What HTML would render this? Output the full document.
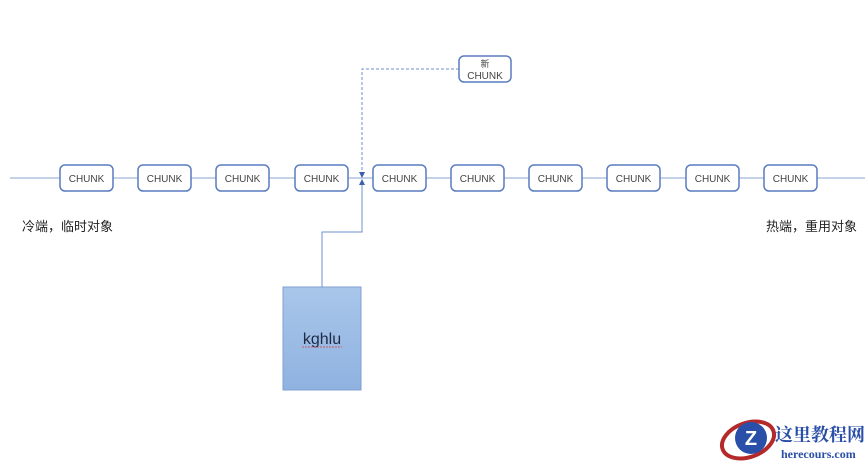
<!DOCTYPE html>
<html><head><meta charset="utf-8"><style>
html,body{margin:0;padding:0;background:#fff;width:865px;height:461px;overflow:hidden;font-family:"Liberation Sans","Noto Sans CJK SC",sans-serif}
</style></head><body>
<svg width="865" height="461" xmlns="http://www.w3.org/2000/svg" style="position:absolute;left:0;top:0">
<defs><linearGradient id="g" x1="0" y1="0" x2="0" y2="1"><stop offset="0" stop-color="#a9c6ea"/><stop offset="1" stop-color="#8fb2e0"/></linearGradient></defs>
<line x1="10" y1="178" x2="865" y2="178" stroke="#9fb6d6" stroke-width="1.2"/>
<g fill="#fff" stroke="#5a7cc0" stroke-width="1.5">
<rect x="60" y="165" width="53" height="26" rx="5"/>
<rect x="138" y="165" width="53" height="26" rx="5"/>
<rect x="216" y="165" width="53" height="26" rx="5"/>
<rect x="295" y="165" width="53" height="26" rx="5"/>
<rect x="373" y="165" width="53" height="26" rx="5"/>
<rect x="451" y="165" width="53" height="26" rx="5"/>
<rect x="529" y="165" width="53" height="26" rx="5"/>
<rect x="607" y="165" width="53" height="26" rx="5"/>
<rect x="686" y="165" width="53" height="26" rx="5"/>
<rect x="764" y="165" width="53" height="26" rx="5"/>
<rect x="459" y="56" width="52" height="26" rx="5"/>
</g>
<g font-size="10" fill="#444" text-anchor="middle">
<text x="86.5" y="182">CHUNK</text><text x="164.5" y="182">CHUNK</text><text x="242.5" y="182">CHUNK</text><text x="321.5" y="182">CHUNK</text><text x="399.5" y="182">CHUNK</text><text x="477.5" y="182">CHUNK</text><text x="555.5" y="182">CHUNK</text><text x="633.5" y="182">CHUNK</text><text x="712.5" y="182">CHUNK</text><text x="790.5" y="182">CHUNK</text>
<text x="485" y="67" font-size="9">新</text><text x="485" y="79">CHUNK</text>
</g>
<path d="M362 175 L362 69 L459 69" fill="none" stroke="#6f8fcf" stroke-width="1" stroke-dasharray="3,2"/>
<path d="M322 287 L322 232 L362 232 L362 181" fill="none" stroke="#6f8fcf" stroke-width="1"/>
<path d="M359 172 L365 172 L362 178 Z M359 185 L365 185 L362 179 Z" fill="#3a5fae"/>
<rect x="283" y="287" width="78" height="103" fill="url(#g)" stroke="#7fa0d0" stroke-width="1"/>
<text x="322" y="344" font-size="16" fill="#1e2a44" text-anchor="middle">kghlu</text>
<line x1="302" y1="347" x2="342" y2="347" stroke="#d04040" stroke-width="0.8" stroke-dasharray="2,1"/>
<text x="22" y="231" font-size="13" fill="#222">冷端，临时对象</text>
<text x="766" y="231" font-size="13" fill="#222">热端，重用对象</text>
<ellipse cx="748" cy="440" rx="27" ry="17" fill="none" stroke="#b42a2a" stroke-width="4" transform="rotate(-20 748 440)"/>
<circle cx="751" cy="438" r="16" fill="#2a4fa8"/>
<text x="751" y="445" font-size="20" font-weight="bold" fill="#fff" text-anchor="middle">Z</text>
<text x="775" y="441" font-size="18" font-weight="bold" fill="#2a4fa8" font-family="Noto Serif CJK SC, serif">这里教程网</text>
<text x="781" y="458" font-size="12" font-weight="bold" fill="#2a4fa8" font-family="Liberation Serif, serif">herecours.com</text>
</svg>
</body></html>
